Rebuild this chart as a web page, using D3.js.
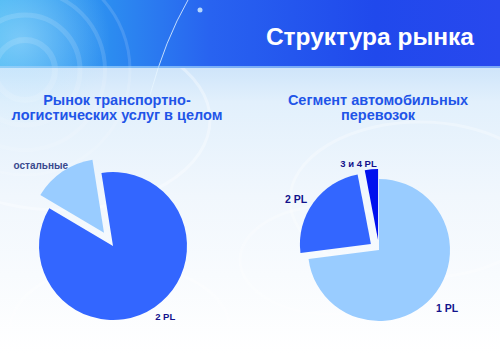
<!DOCTYPE html>
<html><head><meta charset="utf-8"/>
<title>Структура рынка</title>
<script src="https://d3js.org/d3.v7.min.js"></script>
<style>
  body { margin: 0; padding: 0; width: 500px; height: 353px; overflow: hidden; background: #fff; }
  svg { display: block; font-family: "Liberation Sans", Arial, sans-serif; }
</style>
</head>
<body>
<div id="chart"></div>
<script>
// --- data (percent) ---
const leftCategories = ["2 PL", "остальные"];
const leftValues = [86, 14];
const rightCategories = ["1 PL", "2 PL", "3 и 4 PL"];
const rightValues = [73, 24, 3];

const W = 500, H = 353;
const svg = d3.select("#chart").append("svg").attr("width", W).attr("height", H);
const defs = svg.append("defs");

// header gradient
const hg = defs.append("linearGradient").attr("id", "hdr").attr("x1", 0).attr("x2", 1).attr("y1", 0).attr("y2", 0);
[["0%", "#36b0f2"], ["22%", "#2c8cf0"], ["42%", "#2863f0"], ["75%", "#2049ec"], ["100%", "#2848ee"]]
  .forEach(s => hg.append("stop").attr("offset", s[0]).attr("stop-color", s[1]));
// body gradient
const bg = defs.append("linearGradient").attr("id", "bdy").attr("x1", 0).attr("x2", 0).attr("y1", 0).attr("y2", 1);
[["0%", "#cfe5fa"], ["12%", "#e2f0fc"], ["45%", "#f1f7fd"], ["100%", "#ffffff"]]
  .forEach(s => bg.append("stop").attr("offset", s[0]).attr("stop-color", s[1]));
const glow = defs.append("radialGradient").attr("id", "glow");
glow.append("stop").attr("offset", "0%").attr("stop-color", "#bfe8ff").attr("stop-opacity", 0.5);
glow.append("stop").attr("offset", "100%").attr("stop-color", "#bfe8ff").attr("stop-opacity", 0);

// background
svg.append("rect").attr("x", 0).attr("y", 68).attr("width", W).attr("height", H - 68).attr("fill", "url(#bdy)");
const deco = svg.append("g").attr("fill", "none");
[[60, 120, 150, 0.35], [420, 200, 130, 0.3], [330, 260, 90, 0.25], [120, 330, 110, 0.3]].forEach(d => {
  deco.append("ellipse").attr("cx", d[0]).attr("cy", d[1]).attr("rx", d[2]).attr("ry", d[2] * 0.6)
    .attr("stroke", "#ffffff").attr("stroke-width", 3).attr("opacity", d[3]);
});
svg.append("rect").attr("x", 0).attr("y", 0).attr("width", W).attr("height", 68).attr("fill", "url(#hdr)");
svg.append("circle").attr("cx", 20).attr("cy", 40).attr("r", 90).attr("fill", "url(#glow)");
const rings = svg.append("g").attr("fill", "none").attr("stroke", "#ffffff");
[30, 55, 80, 105].forEach((r, i) => {
  rings.append("circle").attr("cx", 25).attr("cy", 70).attr("r", r)
    .attr("stroke-width", 6 - i).attr("opacity", 0.13);
});
svg.append("path").attr("d", "M150,95 Q165,40 188,0").attr("fill", "none")
  .attr("stroke", "#e8f6ff").attr("stroke-width", 1).attr("opacity", 0.8);
svg.append("circle").attr("cx", 200).attr("cy", 10).attr("r", 2.5).attr("fill", "#d8f2ff").attr("opacity", 0.8);
svg.append("rect").attr("x", 0).attr("y", 66).attr("width", W).attr("height", 2).attr("fill", "#9fd2fa").attr("opacity", 0.7);

// title
svg.append("text").attr("x", 474).attr("y", 45).attr("text-anchor", "end")
  .attr("font-size", 24.5).attr("font-weight", "bold").attr("fill", "#ffffff")
  .text("Структура рынка");

// subtitles
function subtitle(lines, cx, y0) {
  const t = svg.append("text").attr("text-anchor", "middle").attr("font-size", 14.5)
    .attr("font-weight", "bold").attr("fill", "#1f55e8");
  lines.forEach((l, i) => t.append("tspan").attr("x", cx).attr("y", y0 + i * 15).text(l));
}
subtitle(["Рынок транспортно-", "логистических услуг в целом"], 117, 105);
subtitle(["Сегмент автомобильных", "перевозок"], 378, 105);

// pies
const deg = Math.PI / 180;
function drawPie(cfg) {
  const pie = d3.pie().sort(null).value(d => d.v)
    .startAngle(cfg.start * deg).endAngle(cfg.start * deg + 2 * Math.PI);
  const arc = d3.arc().innerRadius(0).outerRadius(cfg.r);
  const data = cfg.cats.map((c, i) => ({ c: c, v: cfg.vals[i] }));
  const g = svg.append("g").attr("transform", `translate(${cfg.cx},${cfg.cy})`);
  const slices = pie(data);
  slices.forEach((s, i) => {
    const mid = (s.startAngle + s.endAngle) / 2;
    const ex = cfg.explode[i] || 0;
    const ox = Math.sin(mid) * ex, oy = -Math.cos(mid) * ex;
    g.append("path").attr("d", arc(s)).attr("fill", cfg.colors[i])
      .attr("transform", `translate(${ox},${oy})`);
    const nd = cfg.nudge[s.data.c] || [0, 0];
    const lr = ex + cfg.labelR;
    g.append("text")
      .attr("x", Math.sin(mid) * lr + nd[0]).attr("y", -Math.cos(mid) * lr + nd[1])
      .attr("dy", "0.35em").attr("text-anchor", "middle")
      .attr("font-size", cfg.fs[i]).attr("font-weight", "bold").attr("fill", cfg.labelColor[i])
      .text(s.data.c);
  });
}

drawPie({
  cats: leftCategories, vals: leftValues, cx: 113, cy: 246, r: 74, start: -9,
  colors: ["#3366ff", "#99ccff"], explode: [0, 16], labelR: 84,
  nudge: { "2 PL": [5, 1], "остальные": [-16, 2] }, fs: [9.5, 10], labelColor: ["#12128c", "#3a4a8e"]
});
drawPie({
  cats: rightCategories, vals: rightValues, cx: 379, cy: 250, r: 71, start: 0,
  colors: ["#99ccff", "#3366ff", "#0011ee"], explode: [0, 10, 10], labelR: 80,
  nudge: { "1 PL": [8, 5], "2 PL": [-10, 2], "3 и 4 PL": [-12, 3] }, fs: [10.5, 10.5, 9.5],
  labelColor: ["#12128c", "#12128c", "#12128c"]
});
</script>
</body></html>
